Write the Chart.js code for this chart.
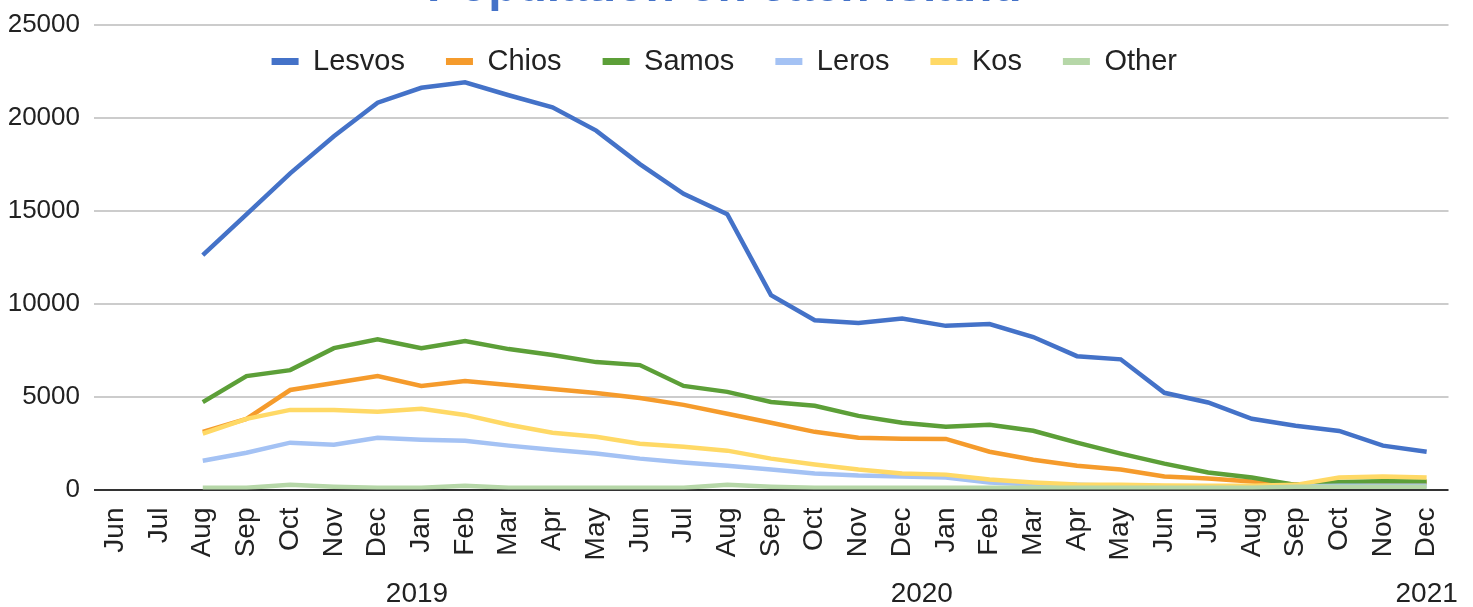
<!DOCTYPE html>
<html>
<head>
<meta charset="utf-8">
<script src="https://cdn.jsdelivr.net/npm/chart.js@4/dist/chart.umd.min.js"></script>
<style>
  html, body { margin: 0; padding: 0; background: #fff; overflow: hidden; }
  #wrap { position: absolute; left: 0; top: -41px; width: 1473px; height: 648px; }
</style>
</head>
<body>
<div id="wrap"><canvas id="chart"></canvas></div>
<script>
// ================= DATA =================
const months = ["Jun", "Jul", "Aug", "Sep", "Oct", "Nov", "Dec",
  "Jan", "Feb", "Mar", "Apr", "May", "Jun", "Jul", "Aug", "Sep", "Oct", "Nov", "Dec",
  "Jan", "Feb", "Mar", "Apr", "May", "Jun", "Jul", "Aug", "Sep", "Oct", "Nov", "Dec"];

const lesvos = [null, null, 12600, 14800, 17000, 19000, 20800, 21600, 21900, 21200, 20550, 19300,
  17500, 15900, 14800, 10450, 9100, 8950, 9200, 8800, 8900, 8200, 7170, 7000,
  5200, 4680, 3800, 3430, 3150, 2360, 2030];
const chios = [null, null, 3100, 3800, 5350, 5730, 6100, 5570, 5830, 5620, 5400, 5190,
  4920, 4550, 4070, 3590, 3100, 2780, 2730, 2720, 2030, 1600, 1280, 1070,
  700, 590, 430, 270, 210, 270, 380];
const samos = [null, null, 4700, 6100, 6420, 7600, 8080, 7600, 7980, 7550, 7230, 6850,
  6690, 5570, 5250, 4710, 4500, 3960, 3590, 3370, 3480, 3160, 2520, 1930,
  1390, 910, 640, 250, 400, 450, 430];
const leros = [null, null, 1550, 1980, 2520, 2410, 2780, 2680, 2620, 2360, 2140, 1930,
  1660, 1450, 1280, 1070, 860, 750, 700, 650, 380, 270, 250, 200,
  180, 170, 160, 160, 200, 200, 200];
const kos = [null, null, 3000, 3800, 4280, 4280, 4180, 4340, 4010, 3480, 3050, 2840,
  2460, 2300, 2090, 1660, 1340, 1070, 860, 800, 540, 380, 270, 250,
  210, 200, 200, 250, 640, 700, 640];
const other = [null, null, 100, 100, 250, 150, 100, 100, 200, 100, 100, 100,
  100, 100, 250, 150, 100, 100, 100, 100, 100, 100, 100, 100,
  100, 100, 100, 150, 150, 150, 150];

const yearLabels = ["2019", "2020", "2021"];
const yearAt = [6.9, 18.45, 30.0];   // category index where each year label sits

const yTicks = [0, 5000, 10000, 15000, 20000, 25000];

// ================= STYLE =================
const FONT = "'Liberation Sans', Arial, sans-serif";
const series = [
  { label: "Lesvos", data: lesvos, color: "#4472c8" },
  { label: "Chios",  data: chios,  color: "#f59b2c" },
  { label: "Samos",  data: samos,  color: "#5c9f38" },
  { label: "Leros",  data: leros,  color: "#a4c2f4" },
  { label: "Kos",    data: kos,    color: "#ffd966" },
  { label: "Other",  data: other,  color: "#b6d7a8" }
];

// legend sits inside the plot, under the top gridline
const legendInside = {
  id: "legendInside",
  afterInit(chart) {
    const lg = chart.legend;
    const fit = lg.fit;
    lg.fit = function () {
      fit.call(this);
      this._realHeight = this.height;
      this.height = 0;
    };
  },
  afterLayout(chart) {
    const lg = chart.legend;
    lg.top = chart.chartArea.top - 18.5;
    lg.height = lg._realHeight;
    lg.bottom = lg.top + lg.height;
  }
};

// x scales: no side padding so the plot runs to the layout edge
const noSidePad = s => { s.paddingLeft = 0; s.paddingRight = 0; };

// ================= CHART =================
const chart = new Chart(document.getElementById("chart"), {
  type: "line",
  data: {
    labels: months,
    datasets: series.map((s, i) => ({
      label: s.label,
      data: s.data,
      borderColor: s.color,
      backgroundColor: s.color,
      borderWidth: 4.5,
      pointRadius: 0,
      tension: 0,
      order: series.length - i
    }))
  },
  plugins: [legendInside],
  options: {
    responsive: true,
    maintainAspectRatio: false,
    animation: false,
    layout: { padding: { left: 0, right: 24.5, top: 0, bottom: 0 } },
    plugins: {
      title: {
        display: true,
        text: "Population on each island",
        color: "#4472c8",
        font: { family: FONT, size: 48, weight: "bold" },
        padding: { top: 0, bottom: 8 }
      },
      legend: {
        position: "top",
        labels: {
          font: { family: FONT, size: 29 },
          color: "#222",
          boxWidth: 27,
          boxHeight: 7,
          padding: 41,
          sort: (a, b) => a.datasetIndex - b.datasetIndex,
          generateLabels: c => Chart.defaults.plugins.legend.labels.generateLabels(c)
            .map(l => Object.assign(l, { lineWidth: 0 }))
        }
      },
      tooltip: { enabled: false }
    },
    scales: {
      x: {
        offset: true,
        weight: 0,
        afterFit: s => { s.height = 70; noSidePad(s); },
        grid: { display: false },
        border: { display: false },
        ticks: {
          font: { family: FONT, size: 28 },
          color: "#222",
          minRotation: 90,
          maxRotation: 90,
          autoSkip: false,
          padding: 10
        }
      },
      years: {
        type: "linear",
        position: "bottom",
        weight: 1,
        min: -0.5,
        max: months.length - 0.5,
        afterFit: s => { s.height = 47.5; noSidePad(s); },
        grid: { display: false },
        border: { display: false },
        afterBuildTicks: s => { s.ticks = yearAt.map(v => ({ value: v })); },
        ticks: {
          font: { family: FONT, size: 28, lineHeight: 1 },
          color: "#222",
          maxRotation: 0,
          autoSkip: false,
          padding: 12.5,
          callback: (v, i) => yearLabels[i]
        }
      },
      y: {
        min: 0,
        max: 25000,
        afterFit: s => { s.width = 93.5; },
        afterBuildTicks: s => { s.ticks = yTicks.map(v => ({ value: v })); },
        border: { display: false },
        grid: {
          drawTicks: false,
          lineWidth: 2,
          color: c => (c.tick && c.tick.value === 0 ? "#333" : "#cccccc")
        },
        ticks: {
          font: { family: FONT, size: 26 },
          color: "#222",
          padding: 13.5,
          callback: v => String(v)
        }
      }
    }
  }
});
</script>
</body>
</html>
